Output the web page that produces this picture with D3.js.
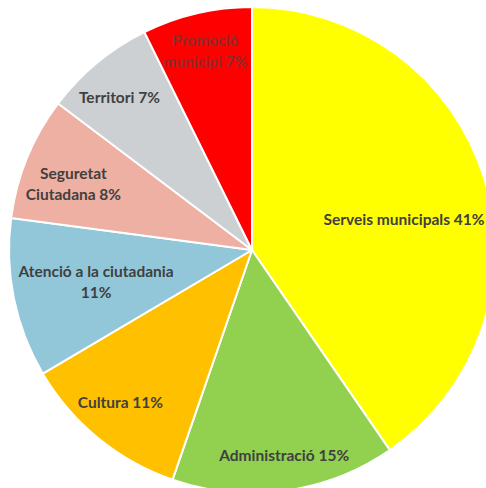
<!DOCTYPE html>
<html>
<head>
<meta charset="utf-8">
<script src="https://cdn.jsdelivr.net/npm/d3@7/dist/d3.min.js"></script>
<style>
  html, body { margin: 0; padding: 0; background: #fff; overflow: hidden; }
  svg { display: block; }
</style>
</head>
<body>
<svg id="chart" width="486" height="488"></svg>
<script>
// ---- data ----
const categories = ["Serveis municipals", "Administració", "Cultura", "Atenció a la ciutadania", "Seguretat Ciutadana", "Territori", "Promoció municipi"];
const shares = [40.4, 14.9, 11.2, 10.6, 8.2, 7.4, 7.3];
const labelPercents = [41, 15, 11, 11, 8, 7, 7];
const labelLines = [
  ["Serveis municipals 41%"],
  ["Administració 15%"],
  ["Cultura 11%"],
  ["Atenció a la ciutadania", "11%"],
  ["Seguretat", "Ciutadana 8%"],
  ["Territori 7%"],
  ["Promoció", "municipi 7%"]
];

// ---- styles / layout ----
const colors = ["#FFFF00", "#92D050", "#FFC000", "#92C7DA", "#EEB0A2", "#CDD0D3", "#FF0000"];
const textColors = ["#404040", "#404040", "#404040", "#404040", "#404040", "#404040", "#8E2C2C"];
const labelRadiusFrac = [0.64, 0.86, 0.83, 0.655, 0.79, 0.83, 0.845];
const labelShift = [[3.5, 16], [4, -2], [-4, -4], [0, 0], [-1, 7], [-4, 3], [0, 1]];
const cx = 252, cy = 250, R = 243;
const fontSize = 15.5, lineH = 20.5;

const svg = d3.select("#chart");
const g = svg.append("g").attr("transform", `translate(${cx},${cy})`);

const data = categories.map((c, i) => ({ cat: c, value: shares[i], pct: labelPercents[i], lines: labelLines[i], i }));

const pie = d3.pie().value(d => d.value).sort(null).startAngle(0).endAngle(2 * Math.PI);
const arcs = pie(data);
const arc = d3.arc().innerRadius(0).outerRadius(R);

g.selectAll("path.slice")
  .data(arcs)
  .join("path")
  .attr("class", "slice")
  .attr("d", arc)
  .attr("fill", d => colors[d.data.i])
  .attr("stroke", "#ffffff")
  .attr("stroke-width", 2)
  .attr("stroke-linejoin", "round");

const labels = g.selectAll("text.lbl")
  .data(arcs)
  .join("text")
  .attr("class", "lbl")
  .attr("transform", d => {
    const i = d.data.i;
    const la = d3.arc().innerRadius(R * labelRadiusFrac[i]).outerRadius(R * labelRadiusFrac[i]);
    const [x, y] = la.centroid(d);
    return `translate(${x + labelShift[i][0]},${y + labelShift[i][1]})`;
  })
  .attr("text-anchor", "middle")
  .attr("font-family", "Lato, 'Open Sans', sans-serif")
  .attr("font-weight", "bold")
  .attr("font-size", fontSize)
  .attr("fill", d => textColors[d.data.i]);

labels.each(function(d) {
  const n = d.data.lines.length;
  const t = d3.select(this);
  d.data.lines.forEach((line, k) => {
    t.append("tspan")
      .attr("x", 0)
      .attr("y", (k - (n - 1) / 2) * lineH)
      .attr("dy", "0.36em")
      .text(line);
  });
});
</script>
</body>
</html>
